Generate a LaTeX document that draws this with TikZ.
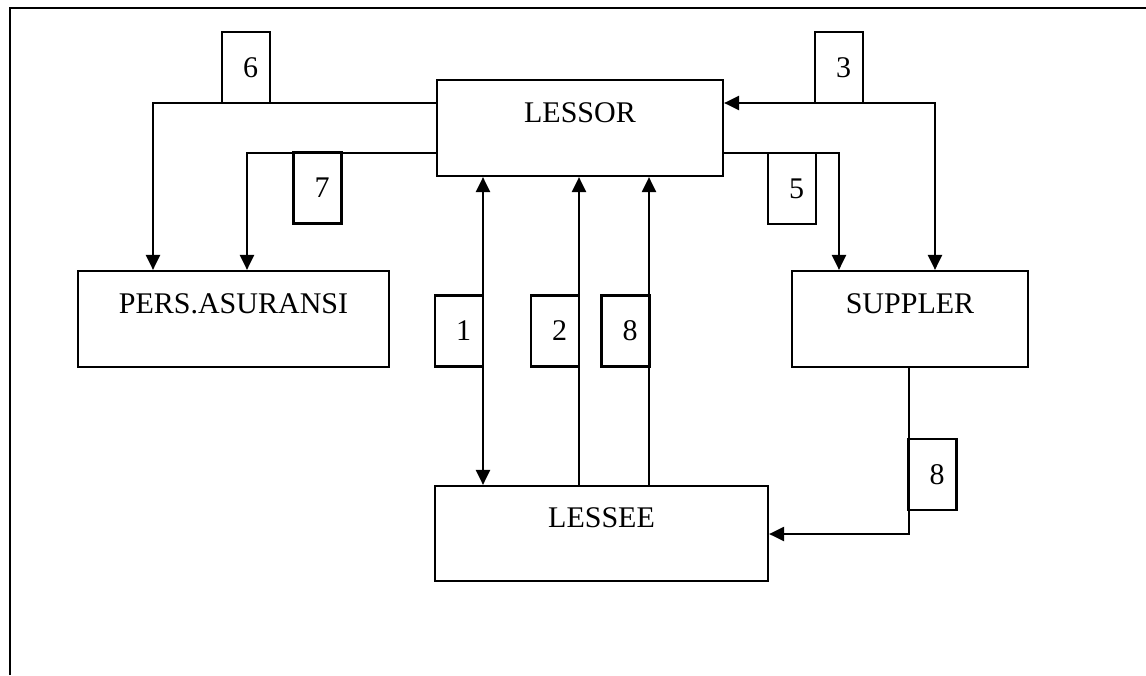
\documentclass[tikz,border=0pt]{standalone}
\usepackage{fontspec}
\setmainfont{Liberation Serif}
\usetikzlibrary{arrows.meta,calc}

\begin{document}
\begin{tikzpicture}[x=1pt, y=-1pt, line width=2.2pt,
  every node/.style={font=\fontsize{30}{36}\selectfont},
  party/.style={draw, inner sep=0pt, text height=20pt, text depth=32pt},
  tag/.style={draw, inner sep=0pt, minimum width=48pt, minimum height=71pt,
    text width=24pt, align=right},
  arr/.style={-{Triangle[length=15pt,width=14pt]}},
  darr/.style={{Triangle[length=15pt,width=14pt]}-{Triangle[length=15pt,width=14pt]}}]
  \useasboundingbox (0,0) rectangle (1146,675);
  % page frame
  \draw (10,675) -- (10,8) -- (1146,8);

  \node[party, minimum width=286pt, minimum height=96pt] (lessor)  at (580,128)   {LESSOR};
  \node[party, minimum width=311pt, minimum height=96pt] (pers)    at (233.5,319) {PERS.ASURANSI};
  \node[party, minimum width=236pt, minimum height=96pt] (suppler) at (910,319)   {SUPPLER};
  \node[party, minimum width=333pt, minimum height=95pt] (lessee)  at (601.5,533.5) {LESSEE};

  % bends and line positions
  \coordinate (c6) at (153,103);
  \coordinate (c7) at (247,153);
  \coordinate (c3) at (935,103);
  \coordinate (c5) at (839,153);
  \coordinate (c8) at (909,534);
  \coordinate (x1) at (483,0);
  \coordinate (x2) at (579,0);
  \coordinate (x8) at (649,0);

  \draw[arr] (lessor.west |- c6) -- (c6) -- (pers.north -| c6);
  \draw[arr] (lessor.west |- c7) -- (c7) -- (pers.north -| c7);
  \draw[darr] (lessor.east |- c3) -- (c3) -- (suppler.north -| c3);
  \draw[arr] (lessor.east |- c5) -- (c5) -- (suppler.north -| c5);

  \draw[darr] (lessor.south -| x1) -- (lessee.north -| x1);
  \draw[arr] (lessee.north -| x2) -- (lessor.south -| x2);
  \draw[arr] (lessee.north -| x8) -- (lessor.south -| x8);
  \draw[arr] (suppler.south -| c8) -- (c8) -- (lessee.east |- c8);

  \node[tag] (t6) at (246,67.5)  {6};
  \node[tag] (t7) at (317.5,188) {7};
  \node[tag] (t3) at (839,67.5)  {3};
  \node[tag] (t5) at (792,188.5) {5};
  \node[tag] (t1) at (459,331)   {1};
  \node[tag] (t2) at (555,331)   {2};
  \node[tag] (t8) at (625.5,331) {8};
  \node[tag] (t8b) at (932.5,474.5) {8};
\end{tikzpicture}
\end{document}
